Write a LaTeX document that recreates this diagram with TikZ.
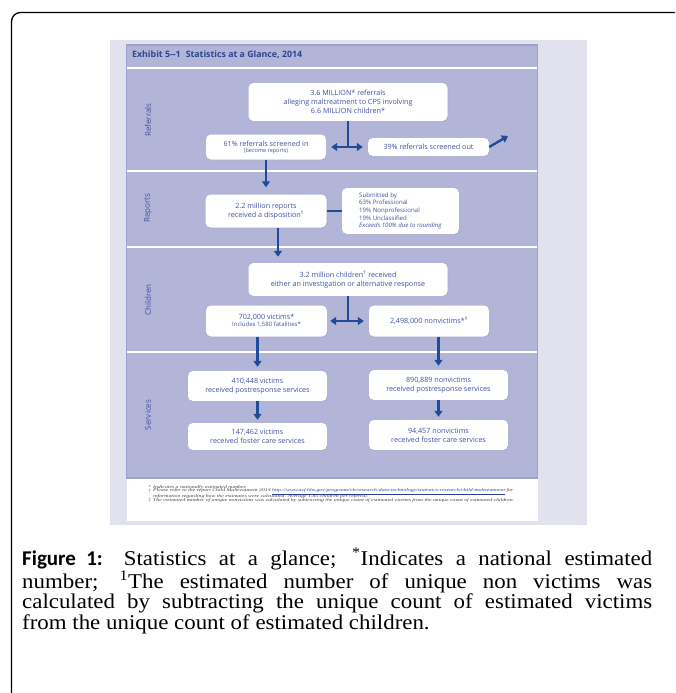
\documentclass[tikz,border=0pt]{standalone}
\usepackage{graphicx}
\usepackage{fontspec}
\setmainfont{Liberation Serif}[HyphenChar=None]
\newfontfamily\capserif{Liberation Serif}[HyphenChar=None, FakeStretch=1.09]
\newfontfamily\exfont{Open Sans}
\newfontfamily\capfont{Carlito}
\usetikzlibrary{arrows.meta,shadows}
\definecolor{bglav}{HTML}{E2E2EE}
\definecolor{panel}{HTML}{B2B5D8}
\definecolor{panelrim}{HTML}{9CA1CE}
\definecolor{titleblue}{HTML}{2C4690}
\definecolor{txtblue}{HTML}{4152A0}
\definecolor{arrblue}{HTML}{1F4B98}
\definecolor{linkblue}{HTML}{2A3F9A}
\newcommand{\widenote}[1]{\scalebox{1.37}[1]{#1}}
\begin{document}
\begin{tikzpicture}[x=1pt,y=-1pt,
	box/.style={fill=white, rounded corners=5pt, align=center, text=txtblue, inner sep=0pt,
		font=\exfont\fontsize{7.2}{9}\selectfont,
		drop shadow={opacity=0.18, shadow xshift=0.8pt, shadow yshift=-0.8pt}},
	plain/.style={draw=arrblue, line width=2.4pt},
	link/.style={plain, -{Triangle[width=8pt,length=6pt]}},
	twoway/.style={plain, {Triangle[width=8pt,length=6pt]}-{Triangle[width=8pt,length=6pt]}},
	seclabel/.style={rotate=90, text=txtblue, font=\exfont\fontsize{8}{9}\selectfont},
	sep/.style={draw=white, line width=1.4pt},
	note/.style={anchor=west, inner sep=0pt, text=black!75, font=\itshape\fontsize{4.2}{4.5}\selectfont},
	notemark/.style={anchor=east, inner sep=0pt, text=black!75, font=\fontsize{4.5}{4.5}\selectfont}]
	\useasboundingbox (0,0) rectangle (675,693);
	\clip (0,0) rectangle (675,693);
		\fill[bglav] (110,40) rectangle (587,525);
		\fill[white] (127,478) rectangle (538,521);
		\filldraw[fill=panel, draw=panelrim, line width=1.4pt] (126.5,45) rectangle (537.5,478);
		\draw[sep] (127,68) -- (537,68);
		\draw[sep] (127,171) -- (537,171);
		\draw[sep] (127,247) -- (537,247);
		\draw[sep] (127,352) -- (537,352);
		\node[anchor=west, inner sep=0pt, text=titleblue, font=\exfont\bfseries\fontsize{8.8}{9}\selectfont](title) at (132,55) {Exhibit 5--1\hspace{5pt}Statistics at a Glance, 2014};
		\node[seclabel](lrefer) at (148,120) {Referrals};
		\node[seclabel](lreport) at (148,208) {Reports};
		\node[seclabel](lchild) at (148,300) {Children};
		\node[seclabel](lserv) at (148,415) {Services};
		\node[box, minimum width=199pt, minimum height=38pt](refer) at (348,102) {3.6 MILLION* referrals\\alleging maltreatment to CPS involving\\6.6 MILLION children*};
		\node[box, minimum width=120pt, minimum height=25pt](scrin) at (266,147) {61\% referrals screened in\\[-3pt]{\fontsize{5.5}{6}\selectfont(become reports)}};
		\node[box, minimum width=121pt, minimum height=18pt](scrout) at (428.5,147) {39\% referrals screened out};
		\node[box, minimum width=121pt, minimum height=33pt](report) at (266,211) {2.2 million reports\\received a disposition\textsuperscript{†}};
		\node[box, minimum width=117pt, minimum height=46pt, align=left, font=\exfont\fontsize{6.1}{7.7}\selectfont](submit) at (400.5,211) {Submitted by\\63\% Professional\\19\% Nonprofessional\\19\% Unclassified\\\textit{Exceeds 100\% due to rounding}};
		\node[box, minimum width=199pt, minimum height=33pt](child) at (348,279.5) {3.2 million children\textsuperscript{†} received\\either an investigation or alternative response};
		\node[box, minimum width=121pt, minimum height=31pt](victim) at (266.5,321) {702,000 victims*\\[-2pt]{\fontsize{6}{6}\selectfont Includes 1,580 fatalities*}};
		\node[box, minimum width=120pt, minimum height=31pt](nonvic) at (429,321) {2,498,000 nonvictims*\textsuperscript{‡}};
		\node[box, minimum width=139pt, minimum height=30pt](vpost) at (257.5,386) {410,448 victims\\received postresponse services};
		\node[box, minimum width=139pt, minimum height=30pt](npost) at (438.5,385) {890,889 nonvictims\\received postresponse services};
		\node[box, minimum width=139pt, minimum height=27pt](vfost) at (257.5,436.5) {147,462 victims\\received foster care services};
		\node[box, minimum width=139pt, minimum height=30pt](nfost) at (438.5,435) {94,457 nonvictims\\received foster care services};
		\coordinate (outend) at (508,136);
		\draw[plain] (refer.south) -- (refer.south |- scrin.east);
		\draw[twoway, shorten <=5pt, shorten >=5pt] (scrin.east) -- (scrout.west);
		\draw[link] (scrout.east) -- (outend);
		\draw[link, shorten >=7pt] (scrin.south) -- (report.north);
		\draw[plain] (report.east) -- (submit.west);
		\draw[link, shorten >=6pt] ([xshift=12pt]report.south) -- ([xshift=12pt]report.south |- child.north);
		\draw[plain] (child.south) -- (child.south |- victim.east);
		\draw[twoway, shorten <=3pt, shorten >=5pt] (victim.east) -- (nonvic.west);
		\draw[link, shorten >=4pt] (victim.south -| vpost.north) -- (vpost.north);
		\draw[link, shorten >=4pt] (nonvic.south -| npost.north) -- (npost.north);
		\draw[link, shorten >=3pt] (vpost.south) -- (vfost.north);
		\draw[link, shorten >=3pt] (npost.south) -- (nfost.north);
		\node[notemark](m1) at (151,487) {*};
		\node[note](n1) at (153,487) {\widenote{Indicates a nationally estimated number.}};
		\node[notemark](m2) at (151,491.5) {†};
		\node[note](n2) at (153,491.5) {\widenote{Please refer to the report Child Maltreatment 2014 \textcolor{linkblue}{\underline{http://www.acf.hhs.gov/programs/cb/research-data-technology/statistics-research/child-maltreatment}}\ for}};
		\node[note](n3) at (153,496) {\widenote{information regarding how the estimates were calculated. Average 1.85 children per referral.}};
		\node[notemark](m3) at (151,500.5) {‡};
		\node[note](n4) at (153,500.5) {\widenote{The estimated number of unique nonvictims was calculated by subtracting the unique count of estimated victims from the unique count of estimated children.}};
		\node[anchor=north west, inner sep=0pt, text width=630pt, align=justify, font=\capserif\fontsize{21}{20.5}\selectfont](caption) at (22,548) {{\capfont\bfseries Figure 1:} Statistics at a glance; \textsuperscript{*}Indicates a national estimated\linebreak number; \textsuperscript{1}The estimated number of unique non victims was\linebreak calculated by subtracting the unique count of estimated victims\linebreak from the unique count of estimated children.};
		\draw[line width=1.3pt, rounded corners=9pt] (11.5,710) -- (11.5,12.5) -- (700,12.5);
\end{tikzpicture}
\end{document}
